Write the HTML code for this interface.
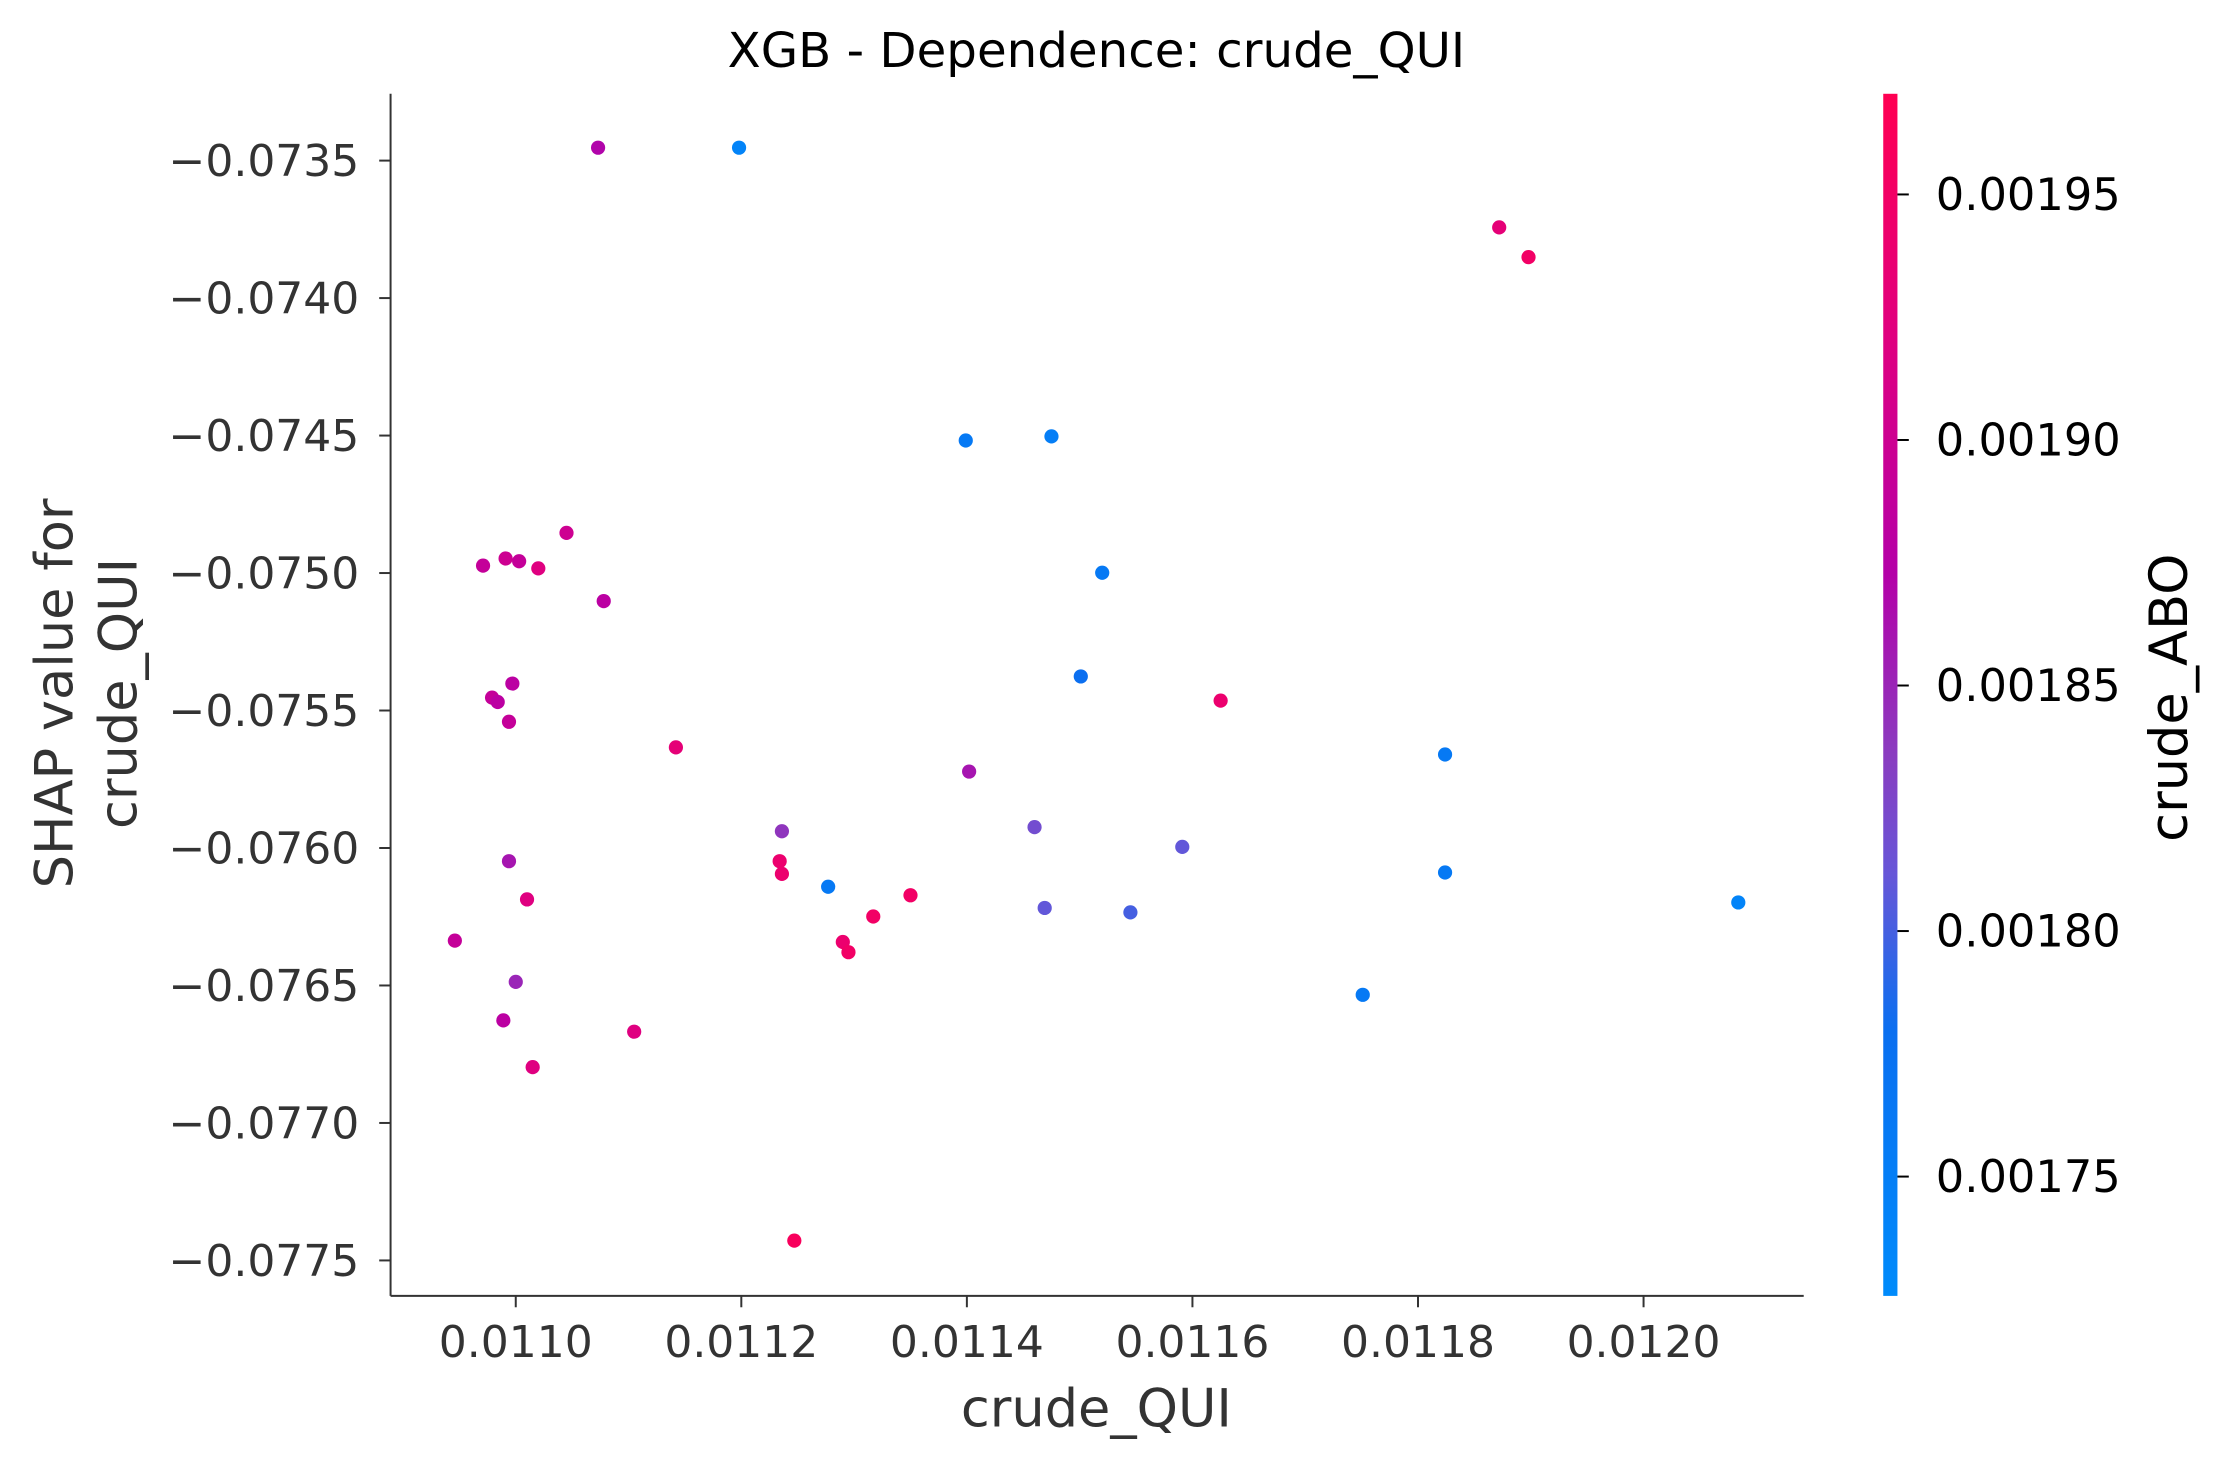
<!DOCTYPE html>
<html><head><meta charset="utf-8"><style>
html,body{margin:0;padding:0;background:#fff;}
svg{display:block;}
text{font-family:"DejaVu Sans","Liberation Sans",sans-serif;}
</style></head><body>
<svg id="chart" width="2217" height="1465" viewBox="0 0 1561 1031" preserveAspectRatio="none" xmlns="http://www.w3.org/2000/svg">
<defs>
<linearGradient id="cbgrad" x1="0" y1="1" x2="0" y2="0">
<stop offset="0" stop-color="#008bfb"/>
<stop offset="0.22" stop-color="#0a6ff0"/>
<stop offset="0.35" stop-color="#6656d8"/>
<stop offset="0.45" stop-color="#8a3cc0"/>
<stop offset="0.6" stop-color="#b400a8"/>
<stop offset="0.8" stop-color="#e0007f"/>
<stop offset="1" stop-color="#ff0052"/>
</linearGradient>
</defs>
<text x="772" y="47" font-size="34" text-anchor="middle" fill="#000">XGB - Dependence: crude_QUI</text>
<g id="axes"></g>
<g id="points"></g>
<g id="cbar"></g>
</svg>
<script>
const xVals=[0.011073,0.011198,0.011872,0.011898,0.011399,0.011475,0.011045,0.010971,0.010991,0.011003,0.011020,0.011078,0.011520,0.011501,0.011625,0.010997,0.010979,0.010984,0.010994,0.011142,0.011402,0.011824,0.011236,0.011460,0.011591,0.010994,0.011234,0.011236,0.011277,0.011010,0.011350,0.011469,0.011545,0.011824,0.012084,0.010946,0.011317,0.011290,0.011295,0.011000,0.010989,0.011105,0.011015,0.011751,0.011247];
const yVals=[-0.073453,-0.073453,-0.073743,-0.073851,-0.074518,-0.074503,-0.074854,-0.074973,-0.074947,-0.074957,-0.074983,-0.075102,-0.074999,-0.075376,-0.075464,-0.075402,-0.075453,-0.075469,-0.075541,-0.075634,-0.075722,-0.075660,-0.075939,-0.075924,-0.075996,-0.076048,-0.076048,-0.076094,-0.076141,-0.076187,-0.076172,-0.076218,-0.076234,-0.076089,-0.076198,-0.076337,-0.076249,-0.076342,-0.076379,-0.076487,-0.076627,-0.076668,-0.076797,-0.076534,-0.077428];
const cVals=[0.00187,0.00174,0.00193,0.00195,0.00176,0.00175,0.00190,0.00189,0.00190,0.00189,0.00192,0.00188,0.00176,0.00178,0.00194,0.00188,0.00189,0.00188,0.00189,0.00193,0.00186,0.00176,0.00184,0.00182,0.00181,0.00186,0.00194,0.00194,0.00176,0.00192,0.00195,0.00181,0.00180,0.00176,0.00174,0.00189,0.00195,0.00194,0.00195,0.00185,0.00188,0.00192,0.00192,0.00176,0.00196];
const xTicks=[0.0110,0.0112,0.0114,0.0116,0.0118,0.0120];
const xTickLabels=["0.0110","0.0112","0.0114","0.0116","0.0118","0.0120"];
const yTicks=[-0.0735,-0.0740,-0.0745,-0.0750,-0.0755,-0.0760,-0.0765,-0.0770,-0.0775];
const yTickLabels=["\u22120.0735","\u22120.0740","\u22120.0745","\u22120.0750","\u22120.0755","\u22120.0760","\u22120.0765","\u22120.0770","\u22120.0775"];
const cTicks=[0.00175,0.00180,0.00185,0.00190,0.00195];
const cTickLabels=["0.00175","0.00180","0.00185","0.00190","0.00195"];

const NS="http://www.w3.org/2000/svg";
const L=275,R=1270,T=66,B=912;
const xMin=0.010889,xMax=0.012142,yMin=-0.077629,yMax=-0.073257;
const cMin=0.0017257,cMax=0.0019705;
const xs=v=>L+(v-xMin)/(xMax-xMin)*(R-L);
const ys=v=>B-(v-yMin)/(yMax-yMin)*(B-T);
const cs=v=>B-(v-cMin)/(cMax-cMin)*(B-T);
function mk(tag,attrs,parent){const e=document.createElementNS(NS,tag);for(const k in attrs)e.setAttribute(k,attrs[k]);parent.appendChild(e);return e;}
const stops=[[0,[0,139,251]],[0.22,[10,111,240]],[0.35,[102,86,216]],[0.45,[138,60,192]],[0.6,[180,0,168]],[0.8,[224,0,127]],[1,[255,0,82]]];
function col(v){let t=(v-cMin)/(cMax-cMin);t=Math.max(0,Math.min(1,t));for(let i=1;i<stops.length;i++){if(t<=stops[i][0]){const a=stops[i-1],b=stops[i];const f=(t-a[0])/(b[0]-a[0]);const c=a[1].map((x,j)=>Math.round(x+(b[1][j]-x)*f));return `rgb(${c.join(',')})`;}}return 'rgb(255,0,82)';}

const ax=document.getElementById('axes');
let e=mk('line',{x1:L,y1:T,x2:L,y2:B,stroke:'#333',"stroke-width":1.4},ax);


e=mk('line',{x1:L,y1:B,x2:R,y2:B,stroke:'#333',"stroke-width":1.4},ax);


xTicks.forEach((v,i)=>{const x=xs(v);
 mk('line',{x1:x,y1:B,x2:x,y2:B+8,stroke:'#333',"stroke-width":1.4},ax);
 const t=mk('text',{x:x,y:955,"font-size":31,"text-anchor":"middle",fill:'#333'},ax);t.textContent=xTickLabels[i];
 
 });
yTicks.forEach((v,i)=>{const y=ys(v);
 mk('line',{x1:L-8,y1:y,x2:L,y2:y,stroke:'#333',"stroke-width":1.4},ax);
 const t=mk('text',{x:253,y:y+11,"font-size":31,"text-anchor":"end",fill:'#333'},ax);t.textContent=yTickLabels[i];
 
 });
e=mk('text',{x:772,y:1004,"font-size":37,"text-anchor":"middle",fill:'#333'},ax);e.textContent='crude_QUI';


const yt=mk('g',{transform:'translate(51,488) rotate(-90)'},ax);
e=mk('text',{x:0,y:0,"font-size":37,"text-anchor":"middle",fill:'#333'},yt);e.textContent='SHAP value for';


e=mk('text',{x:0,y:45,"font-size":37,"text-anchor":"middle",fill:'#333'},yt);e.textContent='crude_QUI';



const pg=document.getElementById('points');
xVals.forEach((v,i)=>{const c=mk('circle',{cx:xs(v),cy:ys(yVals[i]),r:5,fill:col(cVals[i])},pg);
 
 });

const cb=document.getElementById('cbar');
e=mk('rect',{x:1326,y:T,width:10,height:B-T,fill:'url(#cbgrad)'},cb);


cTicks.forEach((v,i)=>{const y=cs(v);
 mk('line',{x1:1336,y1:y,x2:1344,y2:y,stroke:'#000',"stroke-width":1.4},cb);
 const t=mk('text',{x:1363,y:y+11,"font-size":31.5,fill:'#000'},cb);t.textContent=cTickLabels[i];
 
 });
const ct=mk('g',{transform:'translate(1540,491) rotate(-90)'},cb);
e=mk('text',{x:0,y:0,"font-size":37,"text-anchor":"middle",fill:'#000'},ct);e.textContent='crude_ABO';


</script>
</body></html>
